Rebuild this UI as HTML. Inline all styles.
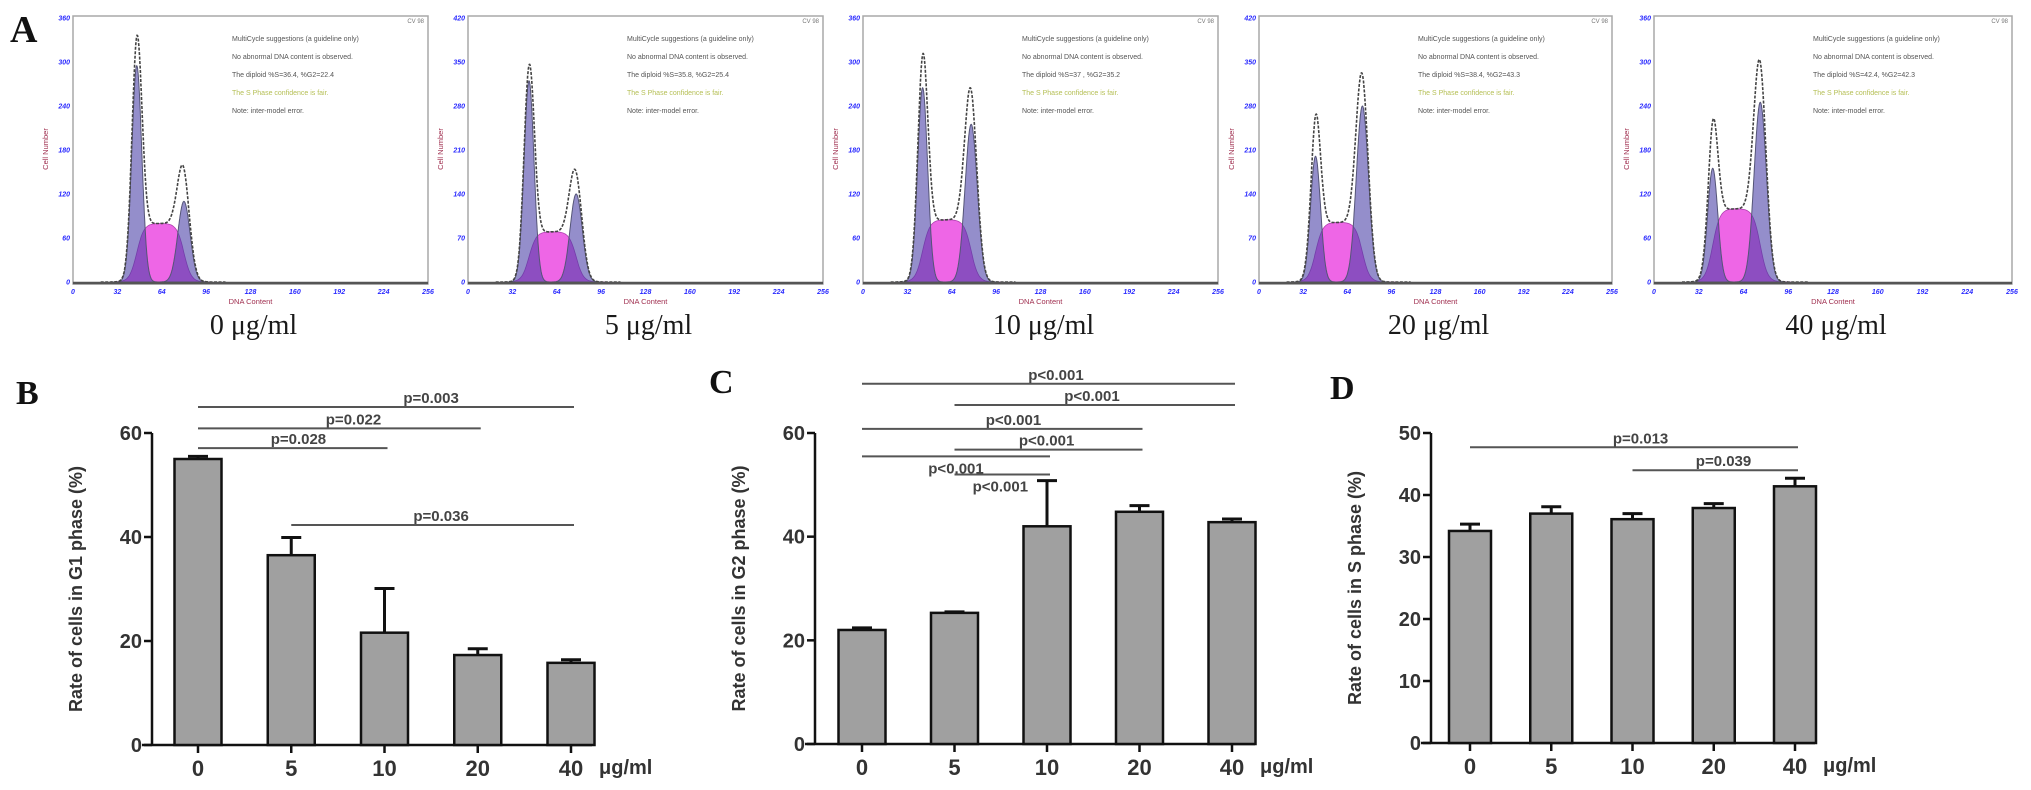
<!DOCTYPE html>
<html><head><meta charset="utf-8">
<style>
html,body{margin:0;padding:0;background:#fff;}
svg{display:block;}
.ser{font-family:"Liberation Serif",serif;}
.san{font-family:"Liberation Sans",sans-serif;}
</style></head>
<body>
<svg id="fig" width="2031" height="790" viewBox="0 0 2031 790" xmlns="http://www.w3.org/2000/svg">
<text x="10" y="42" class="ser" font-size="38" font-weight="bold" fill="#111">A</text>
<text x="16" y="404" class="ser" font-size="34" font-weight="bold" fill="#111">B</text>
<text x="709" y="393" class="ser" font-size="34" font-weight="bold" fill="#111">C</text>
<text x="1330" y="399" class="ser" font-size="34" font-weight="bold" fill="#111">D</text>
<g id="hists"></g>
<g id="bars"></g>
</svg>
<script>
// ---------- Histogram data (panel A) ----------
const histTitles = ["0 μg/ml","5 μg/ml","10 μg/ml","20 μg/ml","40 μg/ml"];
const histYMax = [360,420,360,420,360];
const g1Fit = [295,320,265,200,155];
const g1Total = [335,345,310,265,220];
const g2Fit = [110,140,215,280,245];
const g2Total = [155,175,262,330,300];
const sLevel = [80,80,85,95,100];
const g1Mu = [46,44,43,41,42];
const g2Mu = [80,78,78,75,76];
const diploidText = ["The diploid %S=36.4, %G2=22.4","The diploid %S=35.8, %G2=25.4","The diploid %S=37 , %G2=35.2","The diploid %S=38.4, %G2=43.3","The diploid %S=42.4, %G2=42.3"];
const xTickLabels = [0,32,64,96,128,160,192,224,256];

// ---------- Bar chart data ----------
const doseCats = ["0","5","10","20","40"];
const g1Values = [55.0,36.5,21.6,17.3,15.8];
const g1Errors = [0.5,3.4,8.5,1.2,0.6];
const g2Values = [22.0,25.3,42.0,44.8,42.8];
const g2Errors = [0.4,0.2,8.8,1.2,0.6];
const sValues = [34.2,37.0,36.1,37.9,41.4];
const sErrors = [1.1,1.1,0.9,0.7,1.3];
const g1Ticks = [0,20,40,60];
const g2Ticks = [0,20,40,60];
const sTicks = [0,10,20,30,40,50];
const g1Sig = [[0,4,65.0,"p=0.003",0.62,true],[0,3,60.9,"p=0.022",0.55,true],[0,2,57.1,"p=0.028",0.53,true],[1,4,42.3,"p=0.036",0.53,true]];
const g2Sig = [[0,4,69.5,"p<0.001",0.52,true],[1,4,65.4,"p<0.001",0.49,true],[0,3,60.8,"p<0.001",0.54,true],[1,3,56.8,"p<0.001",0.49,true],[0,2,55.5,"p<0.001",0.5,false],[1,2,52.0,"p<0.001",0.48,false]];
const sSig = [[0,4,47.7,"p=0.013",0.52,true],[2,4,44.0,"p=0.039",0.55,true]];

const NS="http://www.w3.org/2000/svg";
function mk(tag, attrs, parent){const e=document.createElementNS(NS,tag);for(const k in attrs)e.setAttribute(k,attrs[k]);parent.appendChild(e);return e;}

// ---------- Histograms ----------
const panelL=[73,468,863,1259,1654], panelR=[428,823,1218,1612,2012];
const pTop=16, pBase=282, pYTop=18;
const hg=document.getElementById('hists');
function gauss(x,mu,sd){return Math.exp(-0.5*((x-mu)/sd)**2);}
function sComp(x,i){return sLevel[i]/((1+Math.exp(-(x-g1Mu[i])/2.6))*(1+Math.exp((x-g2Mu[i])/2.6)));}
const SD1=3.6, SD2=4.4;
for(let i=0;i<5;i++){
  const L=panelL[i],R=panelR[i];
  const xs=ch=>L+ch/256*(R-L);
  const ys=v=>pBase-v/histYMax[i]*(pBase-pYTop);
  const g=mk('g',{},hg);
  
  
  const frame=mk('rect',{x:L,y:pTop,width:R-L,height:pBase-pTop+2,fill:'#fff',stroke:'#a8a8a8','stroke-width':1.5},g);
  
  
  let d='M'+xs(30)+','+ys(0);
  for(let c=30;c<=100;c+=0.5)d+=' L'+xs(c).toFixed(1)+','+ys(sComp(c,i)).toFixed(1);
  d+=' L'+xs(100)+','+ys(0)+'Z';
  const sp=mk('path',{d:d,fill:'#ee66e6',stroke:'#b040b0','stroke-width':0.8},g);
  
  
  [[g1Fit[i],g1Mu[i],SD1,'g1-peak'],[g2Fit[i],g2Mu[i],SD2,'g2-peak']].forEach(p=>{
    let dd='M'+xs(p[1]-18)+','+ys(0);
    for(let c=p[1]-18;c<=p[1]+18;c+=0.25)dd+=' L'+xs(c).toFixed(1)+','+ys(p[0]*gauss(c,p[1],p[2])).toFixed(1);
    dd+=' L'+xs(p[1]+18)+','+ys(0)+'Z';
    const e=mk('path',{d:dd,fill:'rgba(70,60,165,0.58)',stroke:'#555577','stroke-width':1},g);
    
    
  });
  const ex1=g1Total[i]-g1Fit[i]-sComp(g1Mu[i],i);
  const ex2=g2Total[i]-g2Fit[i]-sComp(g2Mu[i],i);
  let td='';
  for(let c=20;c<=110;c+=0.25){
    const v=g1Fit[i]*gauss(c,g1Mu[i],SD1)+g2Fit[i]*gauss(c,g2Mu[i],SD2)+sComp(c,i)
      +ex1*gauss(c,g1Mu[i],2.2)+ex2*gauss(c,g2Mu[i],2.8);
    td+=(td?' L':'M')+xs(c).toFixed(1)+','+ys(Math.max(0,v)).toFixed(1);
  }
  const tl=mk('path',{d:td,fill:'none',stroke:'#444','stroke-width':1.6,'stroke-dasharray':'3,1.5'},g);
  
  
  const base=mk('line',{x1:L,y1:pBase+1,x2:R,y2:pBase+1,stroke:'#555','stroke-width':2.5},g);
  
  
  for(let k=0;k<=6;k++){
    const v=histYMax[i]/6*k;
    const t=mk('text',{x:L-3,y:ys(v)+2.5,'text-anchor':'end','font-size':7,'font-weight':'bold','font-style':'italic',fill:'#2a2aff',class:'san'},g);
    t.textContent=Math.round(v);
    
    
  }
  xTickLabels.forEach(v=>{
    const t=mk('text',{x:xs(v),y:pBase+12,'text-anchor':'middle','font-size':7,'font-weight':'bold','font-style':'italic',fill:'#2a2aff',class:'san'},g);
    t.textContent=v;
    
    
  });
  const yt=mk('text',{x:L-25,y:(pTop+pBase)/2,transform:'rotate(-90 '+(L-25)+' '+((pTop+pBase)/2)+')','text-anchor':'middle','font-size':7.5,fill:'#a03050',class:'san'},g);
  yt.textContent='Cell Number';
  
  
  const xt=mk('text',{x:(L+R)/2,y:pBase+22,'text-anchor':'middle','font-size':7.5,fill:'#a03050',class:'san'},g);
  xt.textContent='DNA Content';
  
  
  const cv=mk('text',{x:R-4,y:pTop+7,'text-anchor':'end','font-size':6,fill:'#777',class:'san'},g);
  cv.textContent='CV 98';
  
  
  const lines=['MultiCycle suggestions (a guideline only)','No abnormal DNA content is observed.',diploidText[i],'The S Phase confidence is fair.','Note: inter-model error.'];
  lines.forEach((s,k)=>{
    const t=mk('text',{x:L+159,y:41+k*18,'font-size':7,fill:k==3?'#b5bf55':'#555',class:'san'},g);
    t.textContent=s;
    
    
  });
  const ti=mk('text',{x:(L+R)/2+3,y:334,'text-anchor':'middle','font-size':28,fill:'#1a1a1a',class:'ser'},g);
  ti.textContent=histTitles[i];
  
  
}

// ---------- Bar charts ----------
const bg=document.getElementById('bars');
function barChart(cfg){
  const g=mk('g',{},bg);
  
  
  const y=v=>cfg.y0-v/cfg.ymax*(cfg.y0-cfg.yTop);
  const x=i=>cfg.xs[0]+i*(cfg.xs[1]-cfg.xs[0])/(doseCats.length-1);
  const ya=mk('line',{x1:cfg.ax,y1:cfg.yTop,x2:cfg.ax,y2:cfg.y0,stroke:'#111','stroke-width':2.5},g);
  
  
  const xa=mk('line',{x1:cfg.ax-10,y1:cfg.y0,x2:cfg.xEnd,y2:cfg.y0,stroke:'#111','stroke-width':2.5},g);
  
  
  cfg.ticks.forEach(v=>{
    const tk=mk('line',{x1:cfg.ax-8,y1:y(v),x2:cfg.ax,y2:y(v),stroke:'#111','stroke-width':2.5},g);
    
    
    const t=mk('text',{x:cfg.ax-10,y:y(v)+7,'text-anchor':'end','font-size':20,'font-weight':'bold',fill:'#333',class:'san'},g);
    t.textContent=v;
    
    
  });
  const tx=cfg.ax-70, tyy=(cfg.yTop+cfg.y0)/2;
  const yt=mk('text',{x:tx,y:tyy,transform:'rotate(-90 '+tx+' '+tyy+')','text-anchor':'middle','font-size':18,'font-weight':'bold',fill:'#333',class:'san'},g);
  yt.textContent=cfg.title;
  
  
  cfg.vals.forEach((v,i)=>{
    const cx=x(i), w=cfg.bw;
    const eb=mk('line',{x1:cx,y1:y(v),x2:cx,y2:y(v+cfg.errs[i]),stroke:'#111','stroke-width':3},g);
    
    
    const cap=mk('line',{x1:cx-10,y1:y(v+cfg.errs[i]),x2:cx+10,y2:y(v+cfg.errs[i]),stroke:'#111','stroke-width':3},g);
    
    
    const r=mk('rect',{x:cx-w/2,y:y(v),width:w,height:cfg.y0-y(v),fill:'#a0a0a0',stroke:'#111','stroke-width':2.5},g);
    
    
    const tk=mk('line',{x1:cx,y1:cfg.y0,x2:cx,y2:cfg.y0+8,stroke:'#111','stroke-width':2.5},g);
    
    
    const t=mk('text',{x:cx,y:cfg.y0+31,'text-anchor':'middle','font-size':22,'font-weight':'bold',fill:'#333',class:'san'},g);
    t.textContent=doseCats[i];
    
    
  });
  const u=mk('text',{x:x(4)+28,y:cfg.y0+29,'font-size':20,'font-weight':'bold',fill:'#333',class:'san'},g);
  u.textContent='μg/ml';
  
  
  cfg.sig.forEach(s=>{
    const x1=x(s[0]), x2=x(s[1])+3, ly=y(s[2]);
    const l=mk('line',{x1:x1,y1:ly,x2:x2,y2:ly,stroke:'#555','stroke-width':2},g);
    
    
    const t=mk('text',{x:x1+(x2-x1)*s[4],y:s[5]?ly-4:ly+17,'text-anchor':'middle','font-size':15,'font-weight':'bold',fill:'#444',class:'san'},g);
    t.textContent=s[3];
    
    
  });
}
barChart({name:'g1-chart',ax:152,y0:745,yTop:433,ymax:60,xs:[198,571],xEnd:592,bw:47,vals:g1Values,errs:g1Errors,ticks:g1Ticks,sig:g1Sig,title:'Rate of cells in G1 phase (%)'});
barChart({name:'g2-chart',ax:815,y0:744,yTop:433,ymax:60,xs:[862,1232],xEnd:1255,bw:47,vals:g2Values,errs:g2Errors,ticks:g2Ticks,sig:g2Sig,title:'Rate of cells in G2 phase (%)'});
barChart({name:'s-chart',ax:1431,y0:743,yTop:433,ymax:50,xs:[1470,1795],xEnd:1815,bw:42,vals:sValues,errs:sErrors,ticks:sTicks,sig:sSig,title:'Rate of cells in S phase (%)'});
</script>
</body></html>
